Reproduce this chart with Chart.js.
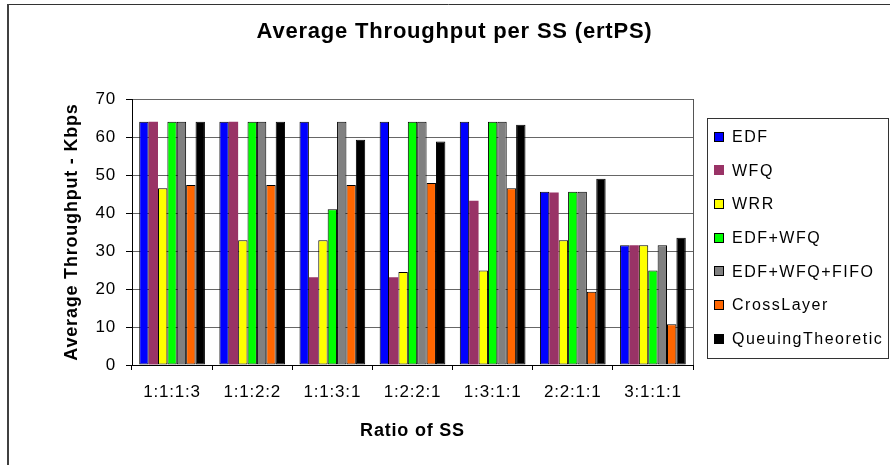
<!DOCTYPE html>
<html>
<head>
<meta charset="utf-8">
<script src="https://cdn.jsdelivr.net/npm/chart.js@4/dist/chart.umd.min.js"></script>
<style>
  html, body { margin: 0; padding: 0; background: #fff; }
  #wrap { width: 890px; height: 465px; }
</style>
</head>
<body>
<div id="wrap"><canvas id="c" width="890" height="465"></canvas></div>
<script>
const categories = ['1:1:1:3', '1:1:2:2', '1:1:3:1', '1:2:2:1', '1:3:1:1', '2:2:1:1', '3:1:1:1'];
const seriesNames = ['EDF', 'WFQ', 'WRR', 'EDF+WFQ', 'EDF+WFQ+FIFO', 'CrossLayer', 'QueuingTheoretic'];
const edf        = [64, 64, 64, 64, 64, 45.6, 31.5];
const wfq        = [64, 64, 23.1, 23.1, 43.2, 45.4, 31.5];
const wrr        = [46.5, 32.8, 32.8, 24.5, 24.9, 32.8, 31.5];
const edfWfq     = [64, 64, 41.0, 64, 64, 45.6, 24.9];
const edfWfqFifo = [64, 64, 64, 64, 64, 45.6, 31.5];
const crossLayer = [47.4, 47.4, 47.4, 47.9, 46.5, 19.3, 10.7];
const queuing    = [64, 64, 59.3, 58.8, 63.2, 49.0, 33.5];
const yTicks = [0, 10, 20, 30, 40, 50, 60, 70];

const seriesValues = [edf, wfq, wrr, edfWfq, edfWfqFifo, crossLayer, queuing];
const colors = ['#0000FF', '#993366', '#FFFF00', '#00FF00', '#808080', '#FF6600', '#000000'];
const borderWidths = [1, 0, 1, 1, 1, 1, 1];

const FONT = "'Liberation Sans', Arial, sans-serif";
const SPACING = '0.8px';

const datasets = seriesNames.map((name, i) => ({
  label: name,
  data: seriesValues[i],
  backgroundColor: colors[i],
  borderColor: '#000000',
  borderWidth: borderWidths[i],
  borderSkipped: false,
  categoryPercentage: 0.82,
  barPercentage: 1.0
}));

const spacingPlugin = {
  id: 'spacingPlugin',
  beforeUpdate(chart) { chart.ctx.letterSpacing = SPACING; },
  beforeLayout(chart) { chart.ctx.letterSpacing = SPACING; },
  beforeDraw(chart) { chart.ctx.letterSpacing = SPACING; }
};

const framePlugin = {
  id: 'framePlugin',
  afterDraw(chart) {
    const ctx = chart.ctx;
    const a = chart.chartArea;
    ctx.save();
    // outer frame: top and left edges only
    ctx.strokeStyle = '#333333';
    ctx.lineWidth = 1;
    ctx.beginPath();
    ctx.moveTo(7, 4.5);
    ctx.lineTo(890, 4.5);
    ctx.stroke();
    ctx.lineWidth = 2;
    ctx.strokeStyle = '#404040';
    ctx.beginPath();
    ctx.moveTo(8, 4);
    ctx.lineTo(8, 465);
    ctx.stroke();
    // plot frame right
    ctx.lineWidth = 1;
    ctx.strokeStyle = '#555555';
    ctx.beginPath();
    ctx.moveTo(Math.round(a.right) + 0.5, a.top);
    ctx.lineTo(Math.round(a.right) + 0.5, a.bottom);
    ctx.stroke();
    // legend
    const lx = 707, ly = 118, lw = 181, lh = 240;
    ctx.strokeStyle = '#333333';
    ctx.strokeRect(lx + 0.5, ly + 0.5, lw, lh);
    ctx.font = '16px ' + FONT;
    ctx.letterSpacing = '1.5px';
    ctx.textBaseline = 'middle';
    ctx.textAlign = 'left';
    chart.data.datasets.forEach((ds, i) => {
      const cy = 136.5 + i * 33.7;
      ctx.fillStyle = ds.backgroundColor;
      ctx.fillRect(714, Math.round(cy - 5), 10, 10);
      if (ds.borderWidth > 0) {
        ctx.strokeStyle = '#000000';
        ctx.strokeRect(714.5, Math.round(cy - 5) + 0.5, 9, 9);
      }
      ctx.fillStyle = '#000000';
      ctx.fillText(ds.label, 732, cy + 1);
    });
    ctx.restore();
  }
};

new Chart(document.getElementById('c'), {
  type: 'bar',
  data: { labels: categories, datasets: datasets },
  options: {
    responsive: false,
    devicePixelRatio: 1,
    animation: false,
    layout: { padding: { left: 24, right: 5, top: 0, bottom: 10 } },
    plugins: {
      legend: { display: false },
      tooltip: { enabled: false },
      title: {
        display: true,
        text: 'Average Throughput per SS (ertPS)',
        color: '#000000',
        font: { family: FONT, size: 22, weight: 'bold' },
        padding: { top: 19, bottom: 53.6 }
      }
    },
    scales: {
      x: {
        grid: { display: true, drawOnChartArea: false, drawTicks: true, tickLength: 5, tickColor: '#000000', offset: true },
        border: { color: '#000000', width: 1 },
        ticks: { color: '#000000', font: { family: FONT, size: 17 }, padding: 12, maxRotation: 0 },
        title: {
          display: true,
          text: 'Ratio of SS',
          color: '#000000',
          font: { family: FONT, size: 18, weight: 'bold' },
          padding: { top: 0, bottom: 13 }
        },
        afterFit(s) { s.height = 90; }
      },
      y: {
        min: 0,
        max: 70,
        afterBuildTicks(s) { s.ticks = yTicks.map(v => ({ value: v })); },
        grid: { color: '#666666', lineWidth: 1, drawTicks: true, tickLength: 6, tickColor: '#000000' },
        border: { color: '#000000', width: 1 },
        ticks: { color: '#000000', font: { family: FONT, size: 17 }, padding: 10 },
        title: {
          display: true,
          text: 'Average Throughput - Kbps',
          color: '#000000',
          font: { family: FONT, size: 18, weight: 'bold' },
          padding: { top: 37, bottom: 0 }
        },
        afterFit(s) { s.width = 108; }
      },
      yR: {
        type: 'linear',
        position: 'right',
        display: true,
        grid: { display: false },
        border: { display: false },
        ticks: { display: false },
        afterFit(s) { s.width = 192; }
      }
    }
  },
  plugins: [spacingPlugin, framePlugin]
});
</script>
</body>
</html>
